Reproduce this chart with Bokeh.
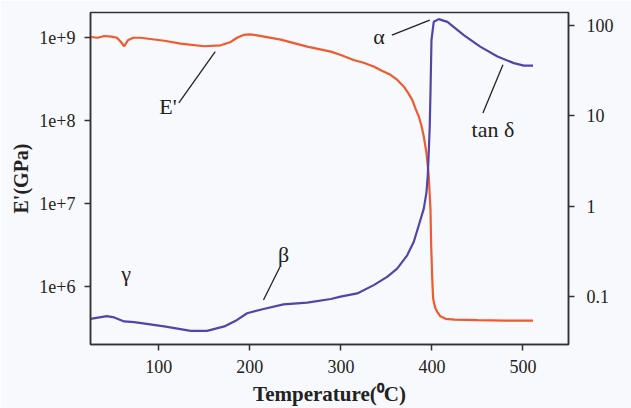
import math

from bokeh.embed import file_html
from bokeh.models import (CustomJSTickFormatter, FixedTicker, Label, LogAxis,
                          LogScale, Range1d)
from bokeh.plotting import figure
from bokeh.resources import INLINE

# Storage modulus E' (left axis, log scale)
temp_e = [25, 33, 40, 48, 54, 58, 62, 66, 72, 80, 106, 124, 150, 168, 179,
          186, 193, 200, 208, 234, 263, 289, 300, 314, 325, 336, 345, 354.5,
          362, 369, 374, 378.3, 382, 385.5, 388.5, 391, 394, 396.5, 398.4,
          399.1, 400.2, 401.3, 403.5, 405.7, 409.3, 415, 425, 450, 480, 511]
storage_modulus = [1.02e9, 1.0e9, 1.05e9, 1.03e9, 1.0e9, 9.0e8, 7.9e8, 9.3e8,
                   1.0e9, 1.0e9, 9.2e8, 8.5e8, 7.9e8, 8.1e8, 8.9e8, 1.0e9,
                   1.08e9, 1.10e9, 1.07e9, 9.5e8, 7.8e8, 6.8e8, 6.2e8, 5.4e8,
                   5.0e8, 4.5e8, 4.0e8, 3.57e8, 3.1e8, 2.59e8, 2.15e8, 1.79e8,
                   1.4e8, 1.13e8, 8.7e7, 6.5e7, 4.1e7, 2.16e7, 8.6e6, 3.4e6,
                   1.37e6, 7.2e5, 5.6e5, 5.0e5, 4.4e5, 4.1e5, 4.0e5, 3.95e5,
                   3.9e5, 3.9e5]

# Loss tangent tan δ (right axis, log scale)
temp_tan = [25, 43, 51, 62, 73, 106, 135, 153, 172, 186, 197, 215, 237, 263,
            289, 299.6, 317.9, 336.1, 350.8, 361.8, 372.8, 380, 385.5, 391,
            394, 395.4, 396.5, 397.6, 398.4, 399.1, 399.5, 402, 407.5, 417,
            435, 453, 472, 490, 501, 511]
tan_delta = [0.0568, 0.0608, 0.0589, 0.0532, 0.0522, 0.0469, 0.0419, 0.0419,
             0.0469, 0.0553, 0.0656, 0.0731, 0.0822, 0.0859, 0.0942, 0.100,
             0.1086, 0.134, 0.1656, 0.204, 0.286, 0.402, 0.611, 0.933, 1.42,
             2.16, 3.91, 7.66, 17.8, 41.3, 68.4, 108.6, 116.4, 108.6, 77.6,
             57.8, 44.9, 38.0, 35.7, 35.7]

x_ticks = [100, 200, 300, 400, 500]
e_ticks = [1e6, 1e7, 1e8, 1e9]
tan_ticks = [0.1, 1, 10, 100]

BG = "#f8f9fc"
AX = "#333333"
INK = "#222222"
FONT = "Liberation Serif"
ORANGE = "#ef5a2e"
BLUE = "#5144aa"

p = figure(width=631, height=408, output_backend="svg", toolbar_location=None,
           x_range=Range1d(25, 550), y_range=Range1d(2.01e5, 2.014e9),
           y_axis_type="log",
           min_border_left=90, min_border_right=63,
           min_border_top=12, min_border_bottom=62,
           background_fill_color=BG, border_fill_color=BG)

p.extra_y_ranges = {"tan": Range1d(0.0296, 137.7)}
p.extra_y_scales = {"tan": LogScale()}

p.xgrid.visible = False
p.ygrid.visible = False
p.outline_line_color = AX
p.outline_line_width = 1.5

right_axis = LogAxis(y_range_name="tan")
p.add_layout(right_axis, "right")

p.xaxis.ticker = FixedTicker(ticks=x_ticks)
p.yaxis[0].ticker = FixedTicker(ticks=e_ticks)
p.yaxis[0].formatter = CustomJSTickFormatter(
    code="return '1e+' + Math.round(Math.log10(tick));")
right_axis.ticker = FixedTicker(ticks=tan_ticks)
right_axis.formatter = CustomJSTickFormatter(
    code="return tick < 1 ? tick.toFixed(1) : tick.toFixed(0);")

for ax in (p.xaxis[0], p.yaxis[0], right_axis):
    ax.axis_line_color = AX
    ax.axis_line_width = 1.5
    ax.major_tick_line_color = AX
    ax.major_tick_line_width = 1.5
    ax.major_tick_in = 0
    ax.major_tick_out = 6
    ax.minor_tick_line_color = None
    ax.major_label_text_font = FONT
    ax.major_label_text_font_size = "18px"
    ax.major_label_text_color = INK
    ax.major_label_standoff = 9
    ax.axis_label_text_font = FONT
    ax.axis_label_text_font_style = "bold"
    ax.axis_label_text_font_size = "20px"
    ax.axis_label_text_color = INK

right_axis.major_label_standoff = 12
p.xaxis.axis_label = "Temperature(\u2070C)"
p.xaxis.axis_label_text_font_size = "21px"
p.xaxis.axis_label_standoff = 6
p.yaxis[0].axis_label = "E'(GPa)"
p.yaxis[0].axis_label_standoff = 4

# Curves
p.line(temp_e, storage_modulus, line_color=ORANGE, line_width=2.2)
p.line(temp_tan, tan_delta, line_color=BLUE, line_width=2.2, y_range_name="tan")

# Right axis title, drawn just outside the frame
p.add_layout(Label(x=608, y=1.2, y_range_name="tan", text="Tan \u03b4",
                   angle=math.pi / 2, text_align="center",
                   text_baseline="middle", text_font=FONT,
                   text_font_style="bold", text_font_size="20px",
                   text_color=INK))

# Curve annotations with leader lines
def note(text, x, y, range_name="default"):
    p.add_layout(Label(x=x, y=y, y_range_name=range_name, text=text,
                       text_align="center", text_baseline="middle",
                       text_font=FONT, text_font_size="22px",
                       text_color=INK))

note("E'", 110, 1.5e8)
p.segment(x0=[122], y0=[1.64e8], x1=[162], y1=[6.8e8],
          line_color=INK, line_width=1.3)

note("\u03b1", 342, 74.8, "tan")
note("tan \u03b4", 467, 7.0, "tan")
note("\u03b2", 237, 0.291, "tan")
note("\u03b3", 64, 0.180, "tan")
p.segment(x0=[356, 456, 215], y0=[77.6, 10.7, 0.092],
          x1=[397.6, 478, 233], y1=[113.5, 36.4, 0.213],
          line_color=INK, line_width=1.3, y_range_name="tan")

open("out.html", "w").write(file_html(p, INLINE))
